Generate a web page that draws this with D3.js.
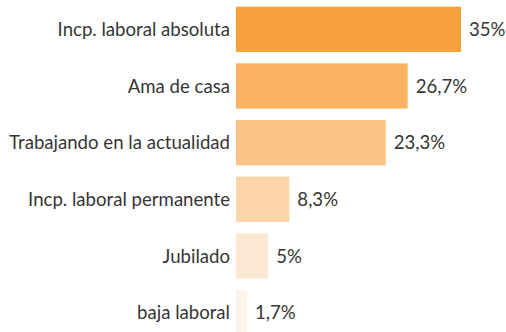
<!DOCTYPE html>
<html>
<head>
<meta charset="utf-8">
<script src="https://cdn.jsdelivr.net/npm/d3@7"></script>
<style>
  html, body { margin: 0; padding: 0; background: #fff; }
  svg { display: block; }
  text { font-family: Lato, "Open Sans", sans-serif; fill: #363636; }
</style>
</head>
<body>
<svg id="chart" width="506" height="332"></svg>
<script>
// Situación laboral (%)
const categories = [
  "Incp. laboral absoluta",
  "Ama de casa",
  "Trabajando en la actualidad",
  "Incp. laboral permanente",
  "Jubilado",
  "baja laboral"
];
const values = [35, 26.7, 23.3, 8.3, 5, 1.7];
const valueLabels = ["35%", "26,7%", "23,3%", "8,3%", "5%", "1,7%"];
const barColors = ["#F7A13C", "#FAB264", "#FBC487", "#FDD5AA", "#FDE9D2", "#FEF3E8"];

const svg = d3.select("#chart");
const x0 = 236;

const x = d3.scaleLinear().domain([0, 35]).range([x0, 461]);
const y = d3.scaleBand()
  .domain(categories)
  .range([1, 341])
  .paddingInner(0.2)
  .paddingOuter(0.1);

const rows = svg.selectAll("g.row")
  .data(categories.map((c, i) => ({ c, v: values[i], label: valueLabels[i], color: barColors[i] })))
  .join("g")
  .attr("class", "row");

rows.append("rect")
  .attr("x", x(0))
  .attr("y", d => y(d.c))
  .attr("width", d => x(d.v) - x(0))
  .attr("height", y.bandwidth())
  .attr("fill", d => d.color);

rows.append("text")
  .attr("x", x0 - 6)
  .attr("y", d => y(d.c) + y.bandwidth() / 2)
  .attr("dy", "0.35em")
  .attr("text-anchor", "end")
  .style("font-size", "18.6px")
  .text(d => d.c);

rows.append("text")
  .attr("x", d => x(d.v) + 8)
  .attr("y", d => y(d.c) + y.bandwidth() / 2)
  .attr("dy", "0.35em")
  .style("font-size", "18.6px")
  .text(d => d.label);
</script>
</body>
</html>
